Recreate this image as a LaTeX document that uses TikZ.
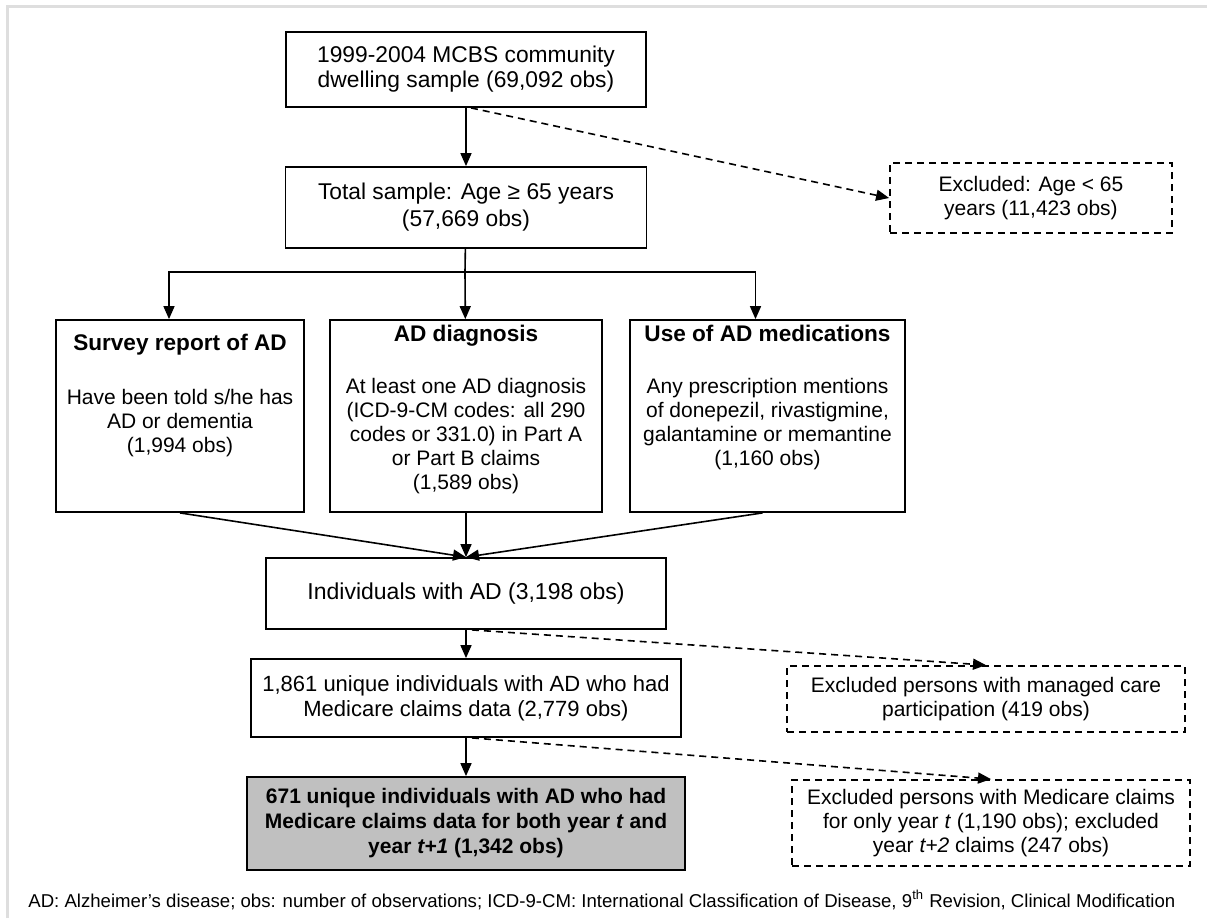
\documentclass[tikz,border=0pt]{standalone}
\usepackage{fontspec}
\setmainfont{Liberation Sans}
\usepackage{xcolor}
\usetikzlibrary{positioning, arrows.meta}

\definecolor{finalgray}{RGB}{192,192,192}
\definecolor{framegray}{RGB}{222,222,222}

\begin{document}
\begin{tikzpicture}[x=0.5pt, y=-0.5pt, on grid,
    >={Triangle[length=6.5pt, width=5.5pt]},
    stage/.style={draw, line width=0.9pt, align=center, inner sep=0pt,
                  font=\fontsize{10.5}{12}\selectfont},
    excl/.style={stage, dash pattern=on 3.5pt off 2.5pt},
    branch/.style={stage, minimum height=96pt},
    flow/.style={->, line width=0.8pt},
    skip/.style={flow, dash pattern=on 3.5pt off 2.5pt}]
        \useasboundingbox (0,0) rectangle (1207,918);
        \draw[framegray, line width=1.5pt] (7,918) -- (7,6) -- (1207,6);

        \node[stage, minimum width=180pt, minimum height=37.5pt,
              font=\fontsize{11.4}{12.5}\selectfont] (mcbs) at (466,69.5)
            {1999-2004 MCBS community\\dwelling sample (69,092 obs)};
        \node[stage, minimum width=180.5pt, minimum height=40.5pt,
              font=\fontsize{11.4}{13.5}\selectfont] (total) [below=69pt of mcbs]
            {Total sample: Age ≥ 65 years\\(57,669 obs)};
        \node[excl, minimum width=141pt, minimum height=35pt] (agex) at (1031,198)
            {Excluded: Age < 65\\years (11,423 obs)};

        \node[branch, minimum width=136pt] (diag) [below=104.25pt of total]
            {\parbox[c][96pt][t]{134pt}{\centering\vspace*{2.5pt}
             {\fontsize{11.3}{13}\selectfont\bfseries AD diagnosis}\\[14pt]
             At least one AD diagnosis\\(ICD-9-CM codes: all 290\\codes or 331.0) in Part A\\or Part B claims\\(1,589 obs)}};
        \node[branch, minimum width=124pt] (survey) [left=143pt of diag]
            {\parbox[c][96pt][t]{122pt}{\centering\vspace*{7pt}
             {\fontsize{11.3}{13}\selectfont\bfseries Survey report of AD}\\[15pt]
             Have been told s/he has\\AD or dementia\\(1,994 obs)}};
        \node[branch, minimum width=137.5pt] (meds) [right=150.75pt of diag]
            {\parbox[c][96pt][t]{135pt}{\centering\vspace*{2.5pt}
             {\fontsize{11.3}{13}\selectfont\bfseries Use of AD medications}\\[14pt]
             Any prescription mentions\\of donepezil, rivastigmine,\\galantamine or memantine\\(1,160 obs)}};

        \node[stage, minimum width=200pt, minimum height=35.5pt,
              font=\fontsize{11.5}{12.5}\selectfont] (indiv) [below=88.75pt of diag]
            {Individuals with AD (3,198 obs)};
        \node[stage, minimum width=215pt, minimum height=39pt,
              font=\fontsize{11}{12.5}\selectfont] (unique) [below=52.25pt of indiv]
            {1,861 unique individuals with AD who had\\Medicare claims data (2,779 obs)};
        \node[excl, minimum width=199pt, minimum height=33pt] (managed) at (986,699)
            {Excluded persons with managed care\\participation (419 obs)};
        \node[stage, fill=finalgray, minimum width=219pt, minimum height=46.5pt,
              font=\fontsize{10.5}{12.5}\selectfont\bfseries] (final) [below=62.75pt of unique]
            {671 unique individuals with AD who had\\Medicare claims data for both year \textit{t} and\\year \textit{t+1} (1,342 obs)};
        \node[excl, minimum width=199pt, minimum height=43pt] (medex) at (991,823)
            {Excluded persons with Medicare claims\\for only year \textit{t} (1,190 obs); excluded\\year \textit{t+2} claims (247 obs)};

        \node[anchor=west, inner sep=0pt, font=\fontsize{9.3}{10}\selectfont] (note) at (28,900)
            {AD: Alzheimer's disease; obs: number of observations; ICD-9-CM: International Classification of Disease, 9\textsuperscript{th} Revision, Clinical Modification};

        \coordinate (fork) at (465,272);

        \draw[flow] (mcbs) -- (total);
        \draw[skip] ([xshift=2.5pt]mcbs.south) -- (agex.west);
        \draw[line width=0.8pt] (total) -- (fork);
        \draw[flow] (fork) -| ([xshift=-5.5pt]survey.north);
        \draw[flow] (fork) -- (diag);
        \draw[flow] (fork) -| ([xshift=-6pt]meds.north);
        \draw[flow] (survey.south) -- (indiv.north);
        \draw[flow] (diag) -- (indiv);
        \draw[flow] ([xshift=-2.5pt]meds.south) -- (indiv.north);
        \draw[flow] (indiv) -- (unique);
        \draw[skip] ([xshift=3pt]indiv.south) -- (managed.north);
        \draw[flow] (unique) -- (final);
        \draw[skip] ([xshift=3pt]unique.south) -- (medex.north);
\end{tikzpicture}
\end{document}
